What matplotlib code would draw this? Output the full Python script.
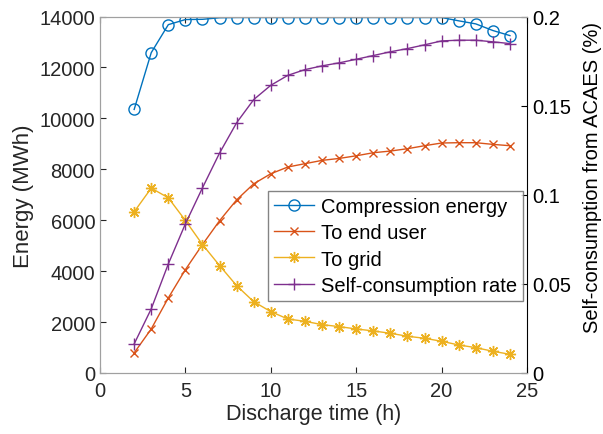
import matplotlib
matplotlib.use("Agg")
import matplotlib.pyplot as plt

plt.rcParams['font.family'] = ['Liberation Sans', 'DejaVu Sans']

hours = list(range(2, 25))
compression = [10350, 12580, 13680, 13880, 13890, 13950, 13960, 13960, 13960, 13960,
               13960, 13960, 13960, 13960, 13960, 13960, 13960, 13960, 13960, 13830,
               13710, 13450, 13250]
to_end_user = [790, 1730, 2950, 4060, 5045, 5980, 6800, 7430, 7825, 8090,
               8220, 8350, 8426, 8530, 8650, 8716, 8808, 8926, 9032, 9044,
               9044, 8978, 8926]
to_grid = [6330, 7260, 6880, 5990, 5045, 4220, 3430, 2800, 2410, 2120,
           2030, 1900, 1821, 1730, 1652, 1560, 1443, 1364, 1246, 1101,
           996, 853, 735]
self_rate = [0.0163, 0.036, 0.0612, 0.0837, 0.1039, 0.1234, 0.1404, 0.1534, 0.1614, 0.167,
             0.1702, 0.1723, 0.1740, 0.176, 0.1781, 0.1802, 0.182, 0.1841, 0.1863, 0.1867,
             0.1867, 0.1858, 0.1848]

left_ticks = [0, 2000, 4000, 6000, 8000, 10000, 12000, 14000]
right_ticks = [0, 0.05, 0.1, 0.15, 0.2]
right_labels = ['0', '0.05', '0.1', '0.15', '0.2']
x_ticks = [0, 5, 10, 15, 20, 25]

c_blue = '#0072BD'
c_orange = '#D95319'
c_yellow = '#EDB120'
c_purple = '#7E2F8E'
gray = '#262626'
spine_gray = '#A0A0A0'

fig = plt.figure(figsize=(6.03, 4.35), dpi=100)
ax = fig.add_axes([100/603, (435-374)/435, (527-100)/603, (374-17.5)/435])
ax2 = ax.twinx()

fs = 14.5
l1, = ax.plot(hours, compression, color=c_blue, marker='o', mfc='none', ms=8, lw=1,
              label='Compression energy')
l2, = ax.plot(hours, to_end_user, color=c_orange, marker='x', ms=5.5, lw=1, label='To end user')
l3, = ax.plot(hours, to_grid, color=c_yellow, marker=(8, 2, 0), ms=8, lw=1, label='To grid')
l4, = ax2.plot(hours, self_rate, color=c_purple, marker='+', ms=8, lw=1,
               label='Self-consumption rate')

ax.set_xlim(0, 25)
ax.set_ylim(0, 14000)
ax2.set_ylim(0, 0.2)
ax.set_xticks(x_ticks)
ax.set_yticks(left_ticks)
ax2.set_yticks(right_ticks)
ax2.set_yticklabels(right_labels)

ax.tick_params(axis='both', direction='in', labelsize=fs, colors=gray, length=4, top=True)
ax.tick_params(axis='x', pad=6)
ax2.tick_params(axis='y', direction='in', labelsize=fs, colors='black', length=4)

for s in ['left', 'bottom', 'top']:
    ax.spines[s].set_color(spine_gray)
    ax2.spines[s].set_color(spine_gray)
ax2.spines['right'].set_color('black')
ax.spines['right'].set_visible(False)

ax.set_xlabel('Discharge time (h)', fontsize=15.5, color=gray, labelpad=2)
ax.set_ylabel('Energy (MWh)', fontsize=16, color=gray, labelpad=4)
ax2.set_ylabel('Self-consumption from ACAES (%)', fontsize=14.5, color='black', labelpad=8)
ax2.yaxis.set_label_coords(1.13, 0.55)

leg = ax2.legend(handles=[l1, l2, l3, l4], loc='upper left', bbox_to_anchor=(0.393, 0.5105),
                 fontsize=fs, frameon=True, fancybox=False, borderaxespad=0,
                 handlelength=2.0, handletextpad=0.35, labelspacing=0.36, borderpad=0.3)
leg.get_frame().set_edgecolor('#666666')
leg.get_frame().set_linewidth(1)

fig.savefig('out.png', dpi=100)
